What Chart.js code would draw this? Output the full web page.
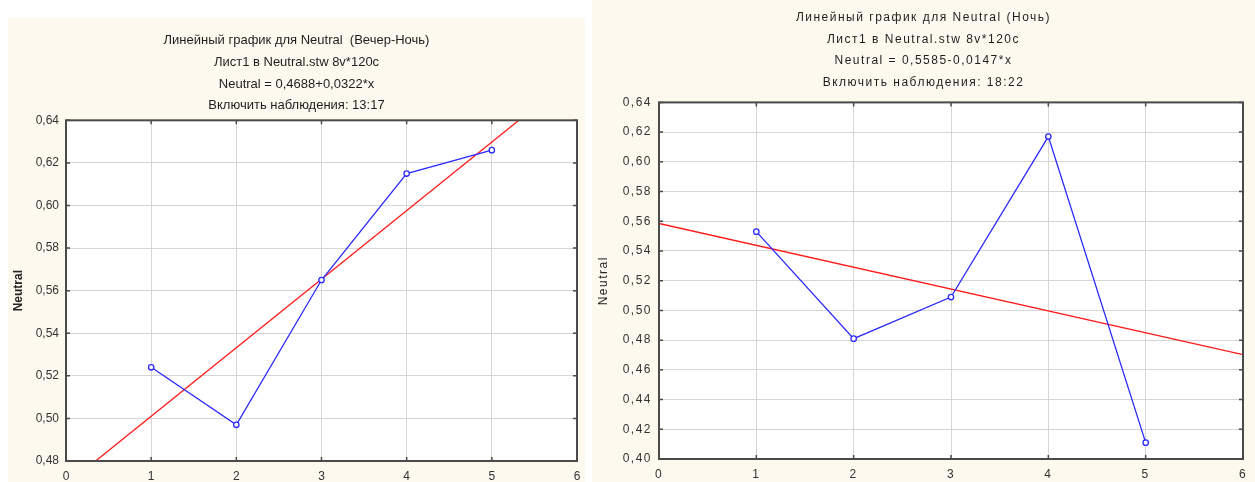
<!DOCTYPE html>
<html>
<head>
<meta charset="utf-8">
<script src="https://cdn.jsdelivr.net/npm/chart.js@4.4.1/dist/chart.umd.min.js"></script>
<style>
    body { margin: 0; background: #ffffff; width: 1255px; height: 482px; position: relative; overflow: hidden; }
    canvas { position: absolute; background: #fef9ef; }
    #leftChart { left: 8px; top: 18px; }
    #rightChart { left: 592px; top: 0px; }
</style>
</head>
<body>
<canvas id="leftChart" width="577" height="464"></canvas>
<canvas id="rightChart" width="663" height="482"></canvas>
<script>
// Left panel: Вечер-Ночь
const leftX = [1, 2, 3, 4, 5];
const leftY = [0.524, 0.497, 0.565, 0.615, 0.626];
const leftFitX = [0, 6];
const leftFitY = [0.4688, 0.6620];
const leftTitle = ['Линейный график для Neutral  (Вечер-Ночь)', 'Лист1 в Neutral.stw 8v*120c', 'Neutral = 0,4688+0,0322*x', 'Включить наблюдения: 13:17'];

// Right panel: Ночь
const rightX = [1, 2, 3, 4, 5];
const rightY = [0.553, 0.481, 0.509, 0.617, 0.411];
const rightFitX = [0, 6];
const rightFitY = [0.5585, 0.4703];
const rightTitle = ['Линейный график для Neutral (Ночь)', 'Лист1 в Neutral.stw 8v*120c', 'Neutral = 0,5585-0,0147*x', 'Включить наблюдения: 18:22'];

const FONT = "'Liberation Sans', Arial, sans-serif";

// white plot area + dark frame with small inward ticks
const plotFrame = {
    id: 'plotFrame',
    beforeDraw(chart, args, opts) {
        const a = chart.chartArea, ctx = chart.ctx;
        ctx.letterSpacing = opts.spacing || '0px';
        ctx.save();
        ctx.fillStyle = '#ffffff';
        ctx.fillRect(a.left, a.top, a.right - a.left, a.bottom - a.top);
        ctx.restore();
    },
    afterDraw(chart) {
        const a = chart.chartArea, ctx = chart.ctx;
        ctx.save();
        ctx.strokeStyle = '#4a4a4a';
        ctx.lineWidth = 2;
        ctx.strokeRect(a.left, a.top, a.right - a.left, a.bottom - a.top);
        ctx.lineWidth = 1.5;
        ctx.beginPath();
        chart.scales.x.ticks.forEach(function(t) {
            const px = chart.scales.x.getPixelForValue(t.value);
            ctx.moveTo(px, a.top); ctx.lineTo(px, a.top + 4);
            ctx.moveTo(px, a.bottom); ctx.lineTo(px, a.bottom - 4);
        });
        chart.scales.y.ticks.forEach(function(t) {
            const py = chart.scales.y.getPixelForValue(t.value);
            ctx.moveTo(a.left, py); ctx.lineTo(a.left + 4, py);
            ctx.moveTo(a.right, py); ctx.lineTo(a.right - 4, py);
        });
        ctx.stroke();
        ctx.restore();
        ctx.letterSpacing = '0px';
    }
};

function toPoints(xs, ys) {
    return xs.map(function(x, i) { return { x: x, y: ys[i] }; });
}

function makeChart(id, cfg) {
    return new Chart(document.getElementById(id), {
        type: 'line',
        data: {
            datasets: [{
                data: toPoints(cfg.fitX, cfg.fitY),
                borderColor: '#ff1a1a',
                borderWidth: 1.3,
                pointRadius: 0,
                order: 2
            },
            {
                data: toPoints(cfg.x, cfg.y),
                borderColor: '#2a2aff',
                borderWidth: 1.3,
                pointRadius: 2.7,
                pointBorderWidth: 1.3,
                pointBackgroundColor: '#ffffff',
                pointBorderColor: '#2a2aff',
                order: 1
            }]
        },
        options: {
            responsive: false,
            animation: false,
            devicePixelRatio: 1,
            layout: { padding: 0 },
            plugins: {
                legend: { display: false },
                tooltip: { enabled: false },
                plotFrame: { spacing: cfg.spacing },
                title: {
                    display: true,
                    text: cfg.title,
                    color: '#1e1e1e',
                    font: { family: FONT, size: cfg.titleSize, weight: 'normal', lineHeight: cfg.titleLH },
                    padding: { top: cfg.titleTop, bottom: cfg.titleBottom }
                }
            },
            scales: {
                x: {
                    type: 'linear',
                    min: 0,
                    max: 6,
                    ticks: {
                        stepSize: 1,
                        color: '#333333',
                        padding: 8,
                        font: { family: FONT, size: 12 }
                    },
                    grid: { color: '#d6d6d6', lineWidth: 1, drawTicks: false },
                    border: { display: false },
                    afterFit: function(scale) {
                        scale.height = cfg.xHeight;
                        scale.paddingLeft = 0;
                        scale.paddingRight = cfg.padRight;
                    }
                },
                y: {
                    min: cfg.yMin,
                    max: 0.64,
                    ticks: {
                        stepSize: 0.02,
                        color: '#333333',
                        padding: 7,
                        font: { family: FONT, size: 12 },
                        callback: function(v) { return v.toFixed(2).replace('.', ','); }
                    },
                    grid: { color: '#d6d6d6', lineWidth: 1, drawTicks: false },
                    border: { display: false },
                    title: {
                        display: true,
                        text: 'Neutral',
                        color: '#222222',
                        font: { family: FONT, size: cfg.yTitleSize, weight: cfg.yTitleWeight },
                        padding: { top: cfg.yTitlePad, bottom: 0 }
                    },
                    afterFit: function(scale) { scale.width = cfg.yWidth; }
                }
            }
        },
        plugins: [plotFrame]
    });
}

makeChart('leftChart', {
    x: leftX, y: leftY, fitX: leftFitX, fitY: leftFitY, title: leftTitle,
    yMin: 0.48, padRight: 8, titleSize: 13, titleLH: 1.66, titleTop: 12, titleBottom: 4,
    xHeight: 21, yWidth: 58, yTitleSize: 12, yTitleWeight: 'bold', yTitlePad: 3, spacing: '0px'
});

makeChart('rightChart', {
    x: rightX, y: rightY, fitX: rightFitX, fitY: rightFitY, title: rightTitle,
    yMin: 0.40, padRight: 12, titleSize: 12, titleLH: 1.8, titleTop: 7, titleBottom: 9,
    xHeight: 23, yWidth: 67, yTitleSize: 12, yTitleWeight: 'normal', yTitlePad: 4, spacing: '1.5px'
});
</script>
</body>
</html>
